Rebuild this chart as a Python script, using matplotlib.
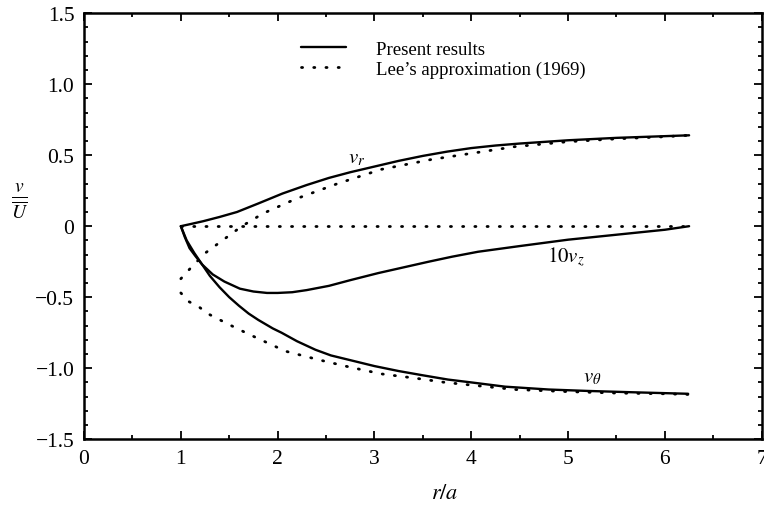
import matplotlib
matplotlib.use('Agg')
import matplotlib.pyplot as plt
from matplotlib.ticker import MultipleLocator

plt.rcParams['font.family'] = ['Liberation Serif', 'DejaVu Serif']
plt.rcParams['mathtext.fontset'] = 'stix'

# present results (solid)
vr_x = [1.0, 1.1, 1.23, 1.4, 1.58, 1.8, 2.05, 2.3, 2.53, 2.75, 3.0, 3.25, 3.5, 3.75, 4.0, 4.25, 4.5, 5.0, 5.5, 6.0, 6.25]
vr_y = [0.0, 0.015, 0.035, 0.065, 0.10, 0.16, 0.23, 0.29, 0.34, 0.38, 0.42, 0.46, 0.495, 0.525, 0.55, 0.568, 0.582, 0.605, 0.622, 0.634, 0.64]

vz_x = [1.0, 1.04, 1.09, 1.15, 1.22, 1.33, 1.45, 1.61, 1.75, 1.89, 2.0, 2.15, 2.3, 2.53, 2.75, 3.04, 3.3, 3.56, 3.8, 4.07, 4.5, 5.0, 5.5, 6.0, 6.25]
vz_y = [0.0, -0.075, -0.155, -0.21, -0.27, -0.34, -0.39, -0.44, -0.46, -0.47, -0.47, -0.465, -0.45, -0.42, -0.38, -0.33, -0.29, -0.25, -0.215, -0.18, -0.14, -0.095, -0.06, -0.025, 0.0]

vt_x = [1.0, 1.06, 1.14, 1.22, 1.3, 1.4, 1.5, 1.6, 1.7, 1.8, 1.95, 2.04, 2.2, 2.39, 2.55, 2.73, 3.0, 3.25, 3.5, 3.76, 4.0, 4.35, 4.8, 5.2, 5.7, 6.24]
vt_y = [0.0, -0.10, -0.19, -0.27, -0.35, -0.43, -0.50, -0.56, -0.615, -0.66, -0.72, -0.75, -0.81, -0.87, -0.91, -0.94, -0.985, -1.02, -1.05, -1.08, -1.10, -1.13, -1.15, -1.16, -1.17, -1.18]

# Lee's approximation (dotted)
lee_vr_x = [1.0, 1.04, 1.08, 1.25, 1.43, 1.63, 1.85, 2.18, 2.62, 3.07, 3.59, 4.07, 4.45, 5.0, 5.5, 6.0, 6.25]
lee_vr_y = [-0.37, -0.34, -0.31, -0.19, -0.10, 0.0, 0.09, 0.19, 0.30, 0.40, 0.47, 0.52, 0.56, 0.595, 0.615, 0.63, 0.64]

lee_vz_x = [1.0, 6.25]
lee_vz_y = [0.0, 0.0]

lee_vt_x = [1.0, 1.08, 1.19, 1.29, 1.49, 1.7, 2.08, 2.42, 2.73, 3.07, 3.42, 3.73, 4.45, 5.0, 5.5, 6.0, 6.25]
lee_vt_y = [-0.47, -0.53, -0.57, -0.62, -0.69, -0.76, -0.88, -0.94, -0.99, -1.04, -1.07, -1.10, -1.15, -1.165, -1.175, -1.18, -1.185]

fig = plt.figure(figsize=(7.64, 5.06), dpi=100)
ax = fig.add_axes([0.110, 0.130, 0.887, 0.842])

solid = dict(color='black', lw=1.7, solid_capstyle='round', solid_joinstyle='round')
dotted = dict(color='black', lw=2.0, linestyle=(0, (0.4, 4.0)), dash_capstyle='round')

ax.plot(vr_x, vr_y, **solid, label='Present results')
ax.plot(vz_x, vz_y, **solid)
ax.plot(vt_x, vt_y, **solid)
ax.plot(lee_vr_x, lee_vr_y, **dotted, label="Lee\u2019s approximation (1969)")
ax.plot(lee_vz_x, lee_vz_y, **dotted)
ax.plot(lee_vt_x, lee_vt_y, **dotted)

ax.text(2.82, 0.48, r'$v_r$', fontsize=15, ha='center', va='center')
ax.text(4.98, -0.21, r'$10v_z$', fontsize=15, ha='center', va='center')
ax.text(5.25, -1.06, r'$v_\theta$', fontsize=15, ha='center', va='center')

ax.set_xlim(0, 7)
ax.set_ylim(-1.5, 1.5)
ax.xaxis.set_major_locator(MultipleLocator(1))
ax.xaxis.set_minor_locator(MultipleLocator(0.5))
ax.yaxis.set_major_locator(MultipleLocator(0.5))
ax.yaxis.set_minor_locator(MultipleLocator(0.1))
ax.set_yticks([-1.5, -1.0, -0.5, 0, 0.5, 1.0, 1.5])
ax.set_yticklabels(['\u22121.5', '\u22121.0', '\u22120.5', '0', '0.5', '1.0', '1.5'])
ax.tick_params(which='both', direction='in', top=True, right=True, labelsize=15.5, width=1.3)
ax.tick_params(which='major', length=6, pad=7)
ax.tick_params(which='minor', length=3)
for s in ax.spines.values():
    s.set_linewidth(1.8)

ax.set_xlabel(r'$r/a$', fontsize=16)
ax.xaxis.set_label_coords(0.532, -0.105)
ax.set_ylabel(r'$\frac{v}{\overline{U}}$', fontsize=20, rotation=0, va='center')
ax.yaxis.set_label_coords(-0.095, 0.56)

ax.legend(loc='upper left', bbox_to_anchor=(0.295, 0.975), frameon=False, fontsize=13.5,
          handlelength=2.4, handletextpad=1.6, labelspacing=0.15)

fig.savefig('out.png', dpi=100)
